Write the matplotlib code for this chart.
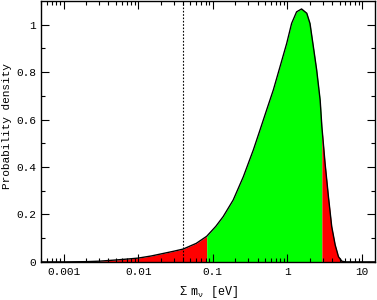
import numpy as np
import matplotlib.pyplot as plt

plt.rcParams['font.family'] = ['Liberation Mono', 'DejaVu Sans Mono']
plt.rcParams['mathtext.fontset'] = 'custom'
plt.rcParams['mathtext.rm'] = 'Liberation Mono'
plt.rcParams['mathtext.it'] = 'Liberation Mono'

# sum of neutrino masses [eV] and probability density
mass = np.array([0.0005, 0.001, 0.002, 0.003, 0.005, 0.0078, 0.01, 0.015, 0.022,
                 0.03, 0.04, 0.06, 0.083, 0.11, 0.138, 0.188, 0.257, 0.35, 0.43,
                 0.527, 0.649, 0.798, 0.98, 1.14, 1.33, 1.55, 1.82, 2.01, 2.23,
                 2.47, 2.75, 2.9, 3.2, 3.55, 3.93, 4.37, 4.84, 5.37, 6.0, 15.0])
density = np.array([0.0, 0.0, 0.001, 0.003, 0.008, 0.013, 0.016, 0.025, 0.036,
                    0.045, 0.054, 0.078, 0.108, 0.15, 0.191, 0.261, 0.359, 0.472,
                    0.556, 0.64, 0.725, 0.823, 0.921, 1.005, 1.054, 1.066, 1.048,
                    1.005, 0.907, 0.809, 0.682, 0.57, 0.416, 0.275, 0.149, 0.072,
                    0.022, 0.003, 0.0, 0.0])

interval_low = 0.083
interval_high = 2.9
marker_line = 0.04

fig = plt.figure(figsize=(3.77, 3.0), dpi=100)
ax = fig.add_axes([0.109, 0.127, 0.886, 0.87])

lo = mass <= interval_low
mid = (mass >= interval_low) & (mass <= interval_high)
hi = mass >= interval_high
ax.fill_between(mass[lo], 0, density[lo], color='#ff0000', lw=0)
ax.fill_between(mass[mid], 0, density[mid], color='#00ff00', lw=0)
ax.fill_between(mass[hi], 0, density[hi], color='#ff0000', lw=0)
ax.plot(mass, density, color='black', lw=1.0)
ax.axvline(marker_line, color='black', ls=(0, (1.5, 1.5)), lw=0.8)

ax.set_xscale('log')
ax.set_xlim(0.0005, 15)
ax.set_ylim(0, 1.1)
ax.set_xticks([0.001, 0.01, 0.1, 1, 10])
ax.set_xticklabels(['0.001', '0.01', '0.1', '1', '10'])
ax.set_yticks([0, 0.2, 0.4, 0.6, 0.8, 1.0])
ax.set_yticklabels(['0', '0.2', '0.4', '0.6', '0.8', '1'])
ax.set_yticks(np.arange(0.1, 1.1, 0.2), minor=True)
ax.tick_params(which='both', direction='in', top=True, right=True, labelsize=8, width=0.8)
ax.tick_params(which='major', length=6)
ax.tick_params(which='minor', length=3)
for s in ax.spines.values():
    s.set_linewidth(1.0)

ax.set_xlabel(r'$\Sigma\ \ \mathrm{m}_\nu$ [eV]', fontsize=8.5, labelpad=5)
ax.set_ylabel('Probability density', fontsize=8)
ax.yaxis.set_label_coords(-0.088, 0.52)

fig.savefig('out.png', dpi=100)
